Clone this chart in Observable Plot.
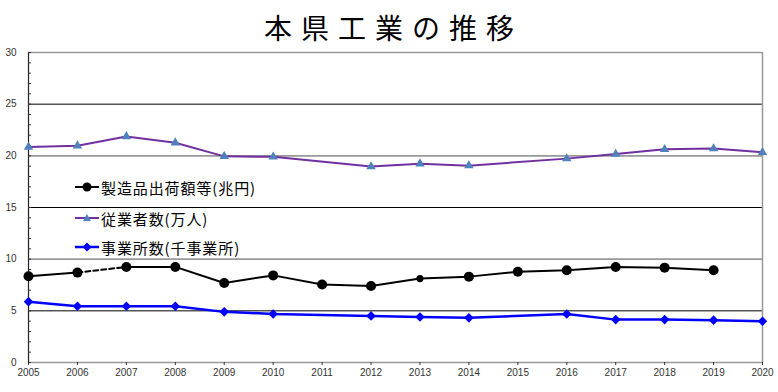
<!DOCTYPE html>
<html><head><meta charset="utf-8">
<script src="https://cdn.jsdelivr.net/npm/d3@7"></script>
<script src="https://cdn.jsdelivr.net/npm/@observablehq/plot@0.6"></script>
<style>
body{margin:0;background:#fff;}
#wrap{position:relative;width:778px;height:392px;overflow:hidden;}
#title{height:40px;line-height:54px;text-align:center;font-family:"Noto Sans CJK JP";font-size:28px;letter-spacing:9px;padding-left:9px;color:#000;white-space:nowrap;}
.lg{position:absolute;left:75px;height:20px;display:flex;align-items:center;font-family:"Noto Sans CJK JP";font-size:15px;letter-spacing:0.9px;color:#000;white-space:nowrap;}
.lg svg{margin-right:2px;}
</style></head><body>
<div id="wrap"><div id="title">本県工業の推移</div><div id="chart"></div></div>
<script>
const years = [2005,2006,2007,2008,2009,2010,2011,2012,2013,2014,2015,2016,2017,2018,2019,2020];
const shipments = [8.35,8.7,9.25,9.25,7.7,8.43,7.54,7.41,8.12,8.31,8.79,8.92,9.25,9.18,8.92,null];
const employees = [20.85,20.98,21.88,21.27,19.95,19.9,null,18.96,19.23,19.05,null,19.73,20.17,20.63,20.7,20.34];
const establishments = [5.89,5.44,5.44,5.44,4.9,4.7,null,4.51,4.41,4.32,null,4.7,4.15,4.15,4.1,4.0];
const seriesNames = ["製造品出荷額等(兆円)","従業者数(万人)","事業所数(千事業所)"];
const yTicks = [0,5,10,15,20,25,30];
const yMinor = [0,1,2,3,4,5,6,7,8,9,10,11,12,13,14,15,16,17,18,19,20,21,22,23,24,25,26,27,28,29,30];

const ship = years.map((year,i)=>({year, v: shipments[i]})).filter(d=>d.v!=null);
const emp = years.map((year,i)=>({year, v: employees[i]})).filter(d=>d.v!=null);
const est = years.map((year,i)=>({year, v: establishments[i]})).filter(d=>d.v!=null);
const dashedSpan = [2006, 2007];
const smallMarkerYear = 2013;
const shipSolid = ship.map(d=>({...d, seg: d.year <= dashedSpan[0] ? "a" : "b"}));
const shipDashed = ship.filter(d=>d.year>=dashedSpan[0] && d.year<=dashedSpan[1]);

const grid = yTicks.map((v,i)=>({v, major: i%2===0}));

const chart = Plot.plot({
  width: 778, height: 352,
  marginTop: 12, marginBottom: 30, marginLeft: 28, marginRight: 16,
  style: {fontFamily: "'Liberation Sans', Arial, sans-serif", fontSize: "10px", color: "#333", background: "#fff"},
  x: {domain: [2005, 2020]},
  y: {domain: [0, 30]},
  marks: [
    Plot.ruleY(grid.filter(d=>d.major), {y: "v", stroke: "#999", strokeWidth: 1.6}),
    Plot.ruleY(grid.filter(d=>!d.major), {y: "v", stroke: "#000", strokeWidth: 1}),
    Plot.ruleX([2020], {stroke: "#999", strokeWidth: 1.5}),
    Plot.ruleX([2005], {stroke: "#222", strokeWidth: 1.2}),
    Plot.axisY({ticks: yTicks, tickSize: 0, tickPadding: 12, label: null, fill: "#333"}),
    Plot.axisY({ticks: yMinor, tickSize: 3, dx: 3, text: null, label: null, stroke: "#333"}),
    Plot.axisX({ticks: years, tickFormat: "d", tickSize: 3, tickPadding: 3, label: null, fill: "#333", stroke: "#333"}),
    // establishments (blue)
    Plot.line(est, {x: "year", y: "v", stroke: "#0000ff", strokeWidth: 2.5}),
    Plot.dot(est, {x: "year", y: "v", symbol: "diamond2", r: 4.3, fill: "#0000ff", stroke: "none"}),
    // employees (purple)
    Plot.line(emp, {x: "year", y: "v", stroke: "#7030a0", strokeWidth: 2}),
    Plot.dot(emp, {x: "year", y: "v", symbol: "triangle", r: 3.5, fill: "#4f81bd", stroke: "none"}),
    // shipments (black)
    Plot.line(shipSolid, {x: "year", y: "v", z: "seg", stroke: "#000", strokeWidth: 2}),
    Plot.line(shipDashed, {x: "year", y: "v", stroke: "#000", strokeWidth: 2, strokeDasharray: "5,3"}),
    Plot.dot(ship.filter(d=>d.year!==smallMarkerYear), {x: "year", y: "v", r: 5, fill: "#000", stroke: "none"}),
    Plot.dot(ship.filter(d=>d.year===smallMarkerYear), {x: "year", y: "v", r: 3.6, fill: "#000", stroke: "none"})
  ]
});
document.getElementById("chart").appendChild(chart);

// legend
const wrap = document.getElementById("wrap");
const swatches = [
  `<svg width="24" height="12"><line x1="0" y1="6" x2="24" y2="6" stroke="#000" stroke-width="2"/><circle cx="12" cy="6" r="4.5" fill="#000"/></svg>`,
  `<svg width="24" height="12"><line x1="0" y1="6" x2="24" y2="6" stroke="#7030a0" stroke-width="2"/><path d="M12,2 L16,9 L8,9 Z" fill="#4f81bd"/></svg>`,
  `<svg width="24" height="12"><line x1="0" y1="6" x2="24" y2="6" stroke="#0000ff" stroke-width="2.5"/><path d="M12,1.5 L16.5,6 L12,10.5 L7.5,6 Z" fill="#0000ff"/></svg>`
];
const rowCenters = [187, 218, 247];
seriesNames.forEach((name,i)=>{
  const div = document.createElement("div");
  div.className = "lg";
  div.style.top = (rowCenters[i]-10) + "px";
  div.innerHTML = swatches[i];
  const span = document.createElement("span");
  span.textContent = name;
  div.appendChild(span);
  wrap.appendChild(div);
});
</script>
</body></html>
